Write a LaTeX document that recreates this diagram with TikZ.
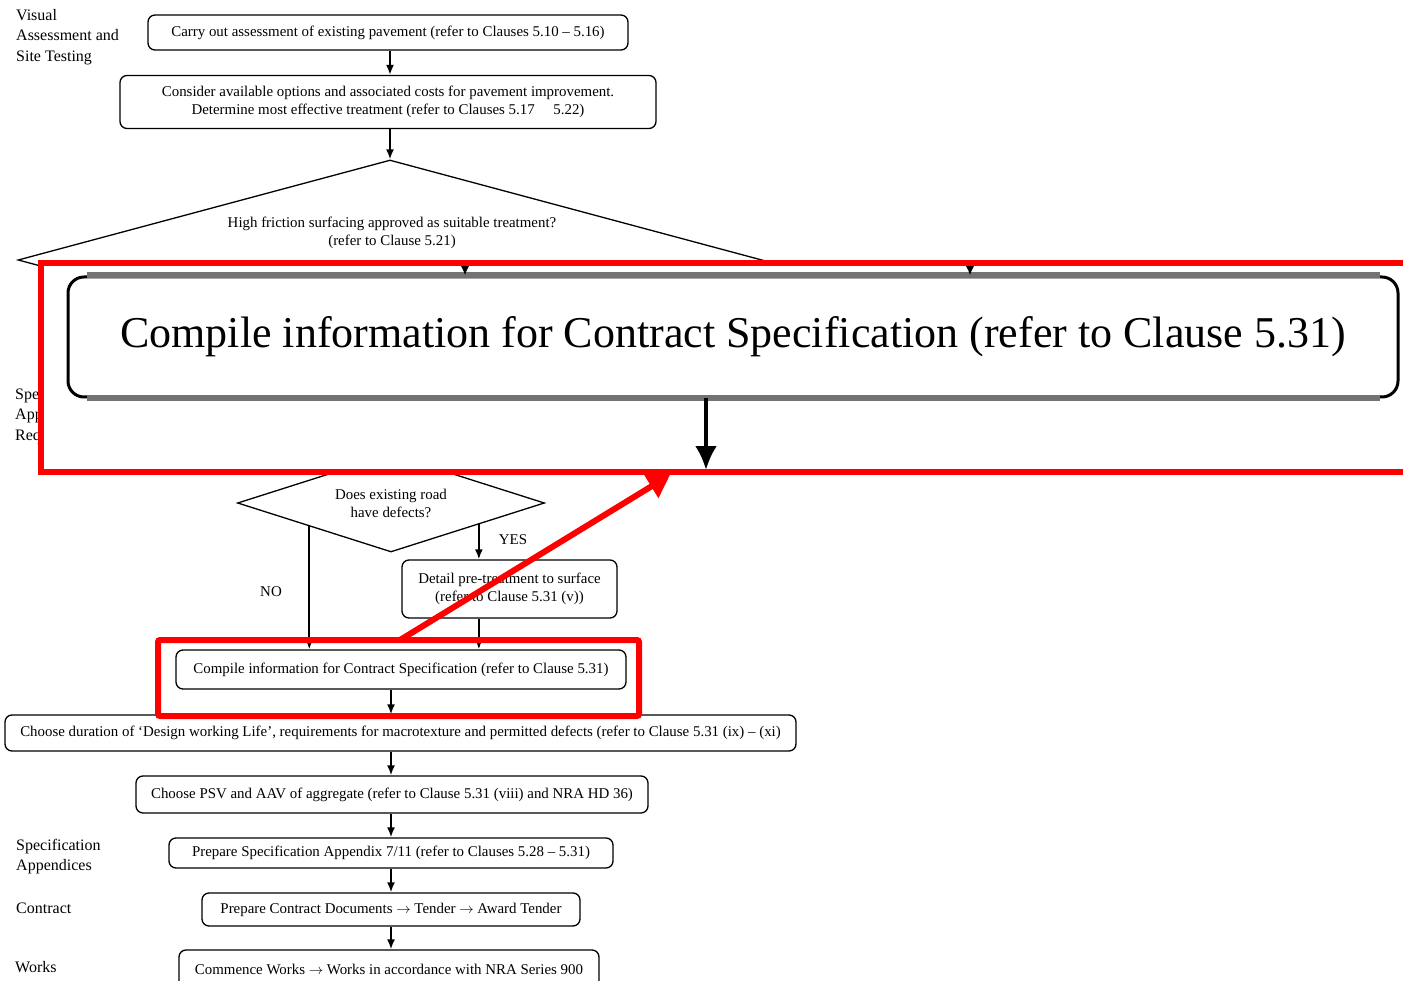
\documentclass[tikz,border=0pt]{standalone}
\usepackage{fontspec}
\setmainfont{Liberation Serif}
\usetikzlibrary{shapes.geometric,arrows.meta,calc}
\begin{document}
\begin{tikzpicture}[x=1pt,y=-1pt,
  txt/.style={font=\fontsize{14.9}{18}\selectfont, align=center},
  box/.style={txt, draw, rounded corners=7pt, line width=1.3pt, inner sep=0pt},
  decision/.style={txt, draw, shape=diamond, line width=1.3pt, inner sep=0pt},
  lbl/.style={font=\fontsize{16}{20.5}\selectfont, align=left, anchor=north west, inner sep=0pt},
  arr/.style={line width=1.8pt, -{Latex[length=10pt,width=8pt]}},
  redline/.style={draw=red, line width=6pt}]
\useasboundingbox (0,0) rectangle (1403,981);
\fill[white] (0,0) rectangle (1403,981);

% stage labels down the left margin
\node[lbl] (l1) at (16,9) {Visual\\Assessment and\\Site Testing};
\node[lbl] (l2) at (15,388) {Specification\\Appendix\\Requirements};
\node[lbl] (l3) at (16,839) {Specification\\Appendices};
\node[lbl] (l4) at (16,903) {Contract};
\node[lbl] (l5) at (15,961) {Works};

% main flow
\coordinate (spine) at (391,0);
\node[box, minimum width=480, minimum height=35] (a) at (388,32.5)
  {Carry out assessment of existing pavement (refer to Clauses 5.10 -- 5.16)};
\node[box, minimum width=536, minimum height=53] (b) at (388,102)
  {Consider available options and associated costs for pavement improvement.\\
   Determine most effective treatment (refer to Clauses 5.17 \quad 5.22)};
\node[decision, minimum width=744, minimum height=200, aspect=3.72] (hf) at (390,260) {};
\node[txt] (hft) at (392,233) {High friction surfacing approved as suitable treatment?\\(refer to Clause 5.21)};
\node[decision, minimum width=307, minimum height=98, aspect=3.13] (sd) at (391,503)
  {Does existing road\\have defects?};
\node[box, minimum width=215, minimum height=58] (det) at (509.5,589)
  {Detail pre-treatment to surface\\(refer to Clause 5.31 (v))};
\node[box, minimum width=450, minimum height=39] (cp) at (401,669.5)
  {Compile information for Contract Specification (refer to Clause 5.31)};
\node[box, minimum width=791, minimum height=36] (dur) at (400.5,733)
  {Choose duration of `Design working Life', requirements for macrotexture and permitted defects (refer to Clause 5.31 (ix) -- (xi)};
\node[box, minimum width=512, minimum height=37] (psv) at (392,794.5)
  {Choose PSV and AAV of aggregate (refer to Clause 5.31 (viii) and NRA HD 36)};
\node[box, minimum width=444, minimum height=30] (app) at (391,853)
  {Prepare Specification Appendix 7/11 (refer to Clauses 5.28 -- 5.31)};
\node[box, minimum width=378, minimum height=33] (con) at (391,909.5)
  {Prepare Contract Documents \(\rightarrow\) Tender \(\rightarrow\) Award Tender};
\node[box, minimum width=420, minimum height=38] (wk) at (389,969)
  {Commence Works \(\rightarrow\) Works in accordance with NRA Series 900};

\draw[arr] (a.south -| 390,0) -- (b.north -| 390,0);
\draw[arr] (b.south -| 390,0) -- (hf.north);
\draw[arr] (hf.south) -- (sd.north);

% branches of the defects decision
\coordinate (noStart) at ($(sd.west)!0.47!(sd.south)$);
\coordinate (yesStart) at ($(sd.east)!0.43!(sd.south)$);
\draw[arr] (noStart) -- (cp.north -| noStart);
\draw[arr] (yesStart) -- (det.north -| yesStart);
\draw[arr] (det.south -| yesStart) -- (cp.north -| yesStart);
\node[txt] (no) at (271,592) {NO};
\node[txt] (yes) at (513,540) {YES};

\draw[arr] (cp.south -| spine) -- (dur.north -| spine);
\draw[arr] (dur.south -| spine) -- (psv.north -| spine);
\draw[arr] (psv.south -| spine) -- (app.north -| spine);
\draw[arr] (app.south -| spine) -- (con.north -| spine);
\draw[arr] (con.south -| spine) -- (wk.north -| spine);

% magnified view of the compile step
\fill[white] (41,263) rectangle (1410,472);
\node[draw, line width=3pt, rounded corners=16pt, minimum width=1330, minimum height=120,
      inner sep=0pt, font=\fontsize{44}{50}\selectfont] (big) at (733,337)
  {Compile information for Contract Specification (refer to Clause 5.31)};
\draw[gray!90!black, line width=6pt] ($(big.north west)+(20,0)$) -- ($(big.north east)+(-20,0)$);
\draw[gray!90!black, line width=6pt] ($(big.south west)+(20,0)$) -- ($(big.south east)+(-20,0)$);
\coordinate (bigNo) at (465,262);
\coordinate (bigYes) at (970,262);
\draw[line width=3pt, -{Latex[length=10pt,width=9pt]}] (bigNo) -- (big.north -| bigNo);
\draw[line width=3pt, -{Latex[length=10pt,width=9pt]}] (bigYes) -- (big.north -| bigYes);
\coordinate (bigOut) at (706,470);
\draw[line width=4pt, -{Latex[length=24pt,width=22pt]}] (big.south -| bigOut) -- (bigOut);

% red highlight frames and pointer
\draw[redline] (41,263) rectangle (1410,472);
\draw[redline, rounded corners=2pt] (158,640) rectangle (639,716);
\coordinate (ptrFrom) at (400,640);
\coordinate (ptrTo) at (670,475);
\draw[draw=red, line width=6pt, -{Triangle[length=22pt,width=26pt]}] (ptrFrom) -- (ptrTo);
\end{tikzpicture}
\end{document}
